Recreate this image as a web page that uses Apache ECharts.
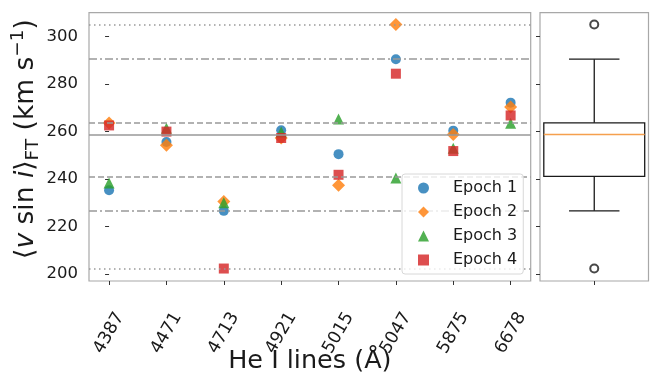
<!DOCTYPE html>
<html>
<head>
<meta charset="utf-8">
<script src="https://cdn.jsdelivr.net/npm/echarts@6/dist/echarts.min.js"></script>
<style>html,body{margin:0;padding:0;background:#fff;}#c{width:650px;height:374px;}</style>
</head>
<body>
<div id="c"></div>
<script>
const categories = ['4387', '4471', '4713', '4921', '5015', '5047', '5875', '6678'];
const epoch1 = [235.3, 255.6, 226.6, 260.6, 250.5, 290.5, 260.4, 272.2];
const epoch2 = [263.6, 254.3, 230.6, 257.3, 237.4, 305.1, 258.8, 270.4];
const epoch3 = [238.3, 261.4, 230.0, 259.8, 265.3, 240.4, 253.0, 263.5];
const epoch4 = [262.6, 260.0, 202.3, 257.3, 241.8, 284.4, 251.8, 266.8];
const yTicks = [200, 220, 240, 260, 280, 300];
// box statistics: lower whisker, Q1, median, Q3, upper whisker
const boxStats = [226.6, 241.1, 258.8, 263.7, 290.5];
const outliers = [305.1, 202.3];

const FONT = 'DejaVu Sans';
const yMin = 197.05, yMax = 310.1;
const idx = categories.map((c, i) => i);

function pts(arr) { return arr.map((v, i) => [i, v]); }

const refColor = '#999999';
const refLines = [
  { yAxis: outliers[0], lineStyle: { type: [1.5, 3.5] } },
  { yAxis: outliers[1], lineStyle: { type: [1.5, 3.5] } },
  { yAxis: boxStats[0], lineStyle: { type: [8, 3, 2, 3] } },
  { yAxis: boxStats[4], lineStyle: { type: [8, 3, 2, 3] } },
  { yAxis: boxStats[1], lineStyle: { type: [6, 3] } },
  { yAxis: boxStats[3], lineStyle: { type: [6, 3] } },
  { yAxis: boxStats[2], lineStyle: { type: 'solid' } }
];

const scatterBase = (name, data, symbol, color, size) => ({
  name, type: 'scatter', xAxisIndex: 0, yAxisIndex: 0,
  data: pts(data), symbol, symbolSize: size,
  itemStyle: { color, opacity: 0.82 },
  emphasis: { disabled: true }, z: 3
});

const chart = echarts.init(document.getElementById('c'), null, { renderer: 'canvas' });
chart.setOption({
  animation: false,
  backgroundColor: '#ffffff',
  textStyle: { fontFamily: FONT },
  grid: [
    { left: 89, top: 12.7, width: 441.7, height: 268.3, show: true, borderColor: '#a8a8a8', borderWidth: 1.2, backgroundColor: 'transparent', containLabel: false, outerBoundsMode: 'none' },
    { left: 540, top: 12.7, width: 108.5, height: 268.3, show: true, borderColor: '#a8a8a8', borderWidth: 1.2, backgroundColor: 'transparent', containLabel: false, outerBoundsMode: 'none' }
  ],
  xAxis: [
    {
      type: 'value', gridIndex: 0, min: -0.35, max: 7.35,
      axisLine: { show: false }, splitLine: { show: false },
      axisTick: { show: true, customValues: idx, length: 4, lineStyle: { color: '#333', width: 1 } },
      axisLabel: {
        customValues: idx, formatter: v => categories[Math.round(v)] || '',
        rotate: 60, align: 'center', verticalAlign: 'middle', margin: 52,
        fontSize: 17.5, color: '#1a1a1a', fontFamily: FONT
      },
      name: 'He I lines (Å)', nameLocation: 'middle', nameGap: 67.5, nameMoveOverlap: false,
      nameTextStyle: { fontSize: 25.5, color: '#1a1a1a', fontFamily: FONT }
    },
    {
      type: 'value', gridIndex: 1, min: 0.5, max: 1.5,
      axisLine: { show: false }, splitLine: { show: false },
      axisTick: { show: true, customValues: [1], length: 4, lineStyle: { color: '#333', width: 1 } },
      axisLabel: { show: false }
    }
  ],
  yAxis: [
    {
      type: 'value', gridIndex: 0, min: yMin, max: yMax,
      axisLine: { show: false }, splitLine: { show: false },
      axisTick: { show: true, customValues: yTicks, length: 4, lineStyle: { color: '#333', width: 1 } },
      axisLabel: { customValues: yTicks, margin: 11, fontSize: 16.5, color: '#1a1a1a', fontFamily: FONT }
    },
    {
      type: 'value', gridIndex: 1, min: yMin, max: yMax,
      axisLine: { show: false }, splitLine: { show: false },
      axisTick: { show: true, customValues: yTicks, length: 4, lineStyle: { color: '#333', width: 1 } },
      axisLabel: { show: false }
    }
  ],
  legend: {
    data: ['Epoch 1', 'Epoch 2', 'Epoch 3', 'Epoch 4'],
    orient: 'vertical', left: 402, top: 174,
    padding: [6, 6, 6, 16], itemGap: 8,
    itemWidth: 11, itemHeight: 11,
    backgroundColor: 'rgba(255,255,255,0.8)', borderColor: '#d8d8d8', borderWidth: 1, borderRadius: 3,
    textStyle: { fontSize: 16, color: '#1a1a1a', fontFamily: FONT, padding: [0, 0, 0, 19] },
    selectedMode: false, z: 10
  },
  graphic: [
    {
      type: 'text', x: 26, y: 139, rotation: Math.PI / 2,
      style: {
        text: '{n|⟨}{it|v}{n| sin }{it|i}{n|⟩}{sub|FT}{n| (km s}{sup|−1}{n|)}',
        align: 'center', verticalAlign: 'middle',
        rich: {
          n: { fontSize: 26.5, fontFamily: FONT, fill: '#1a1a1a', lineHeight: 34 },
          it: { fontSize: 26.5, fontFamily: FONT, fontStyle: 'italic', fill: '#1a1a1a', lineHeight: 34 },
          sub: { fontSize: 18.5, fontFamily: FONT, fill: '#1a1a1a', lineHeight: 18, verticalAlign: 'bottom' },
          sup: { fontSize: 18.5, fontFamily: FONT, fill: '#1a1a1a', lineHeight: 18, verticalAlign: 'top' }
        }
      }
    }
  ],
  series: [
    {
      name: 'refs', type: 'scatter', xAxisIndex: 0, yAxisIndex: 0, data: [], z: 1,
      markLine: {
        silent: true, symbol: ['none', 'none'], label: { show: false },
        lineStyle: { color: refColor, width: 1.5 },
        data: refLines, animation: false
      }
    },
    scatterBase('Epoch 1', epoch1, 'circle', '#1f77b4', 10),
    scatterBase('Epoch 2', epoch2, 'diamond', '#ff7f0e', 13),
    scatterBase('Epoch 3', epoch3, 'triangle', '#2ca02c', 11),
    scatterBase('Epoch 4', epoch4, 'rect', '#d62728', 10),
    {
      name: 'box', type: 'custom', xAxisIndex: 1, yAxisIndex: 1,
      data: [[1].concat(boxStats)],
      encode: { x: 0, y: [1, 2, 3, 4, 5] },
      renderItem: function (params, api) {
        const x = api.value(0);
        const lo = api.value(1), q1 = api.value(2), md = api.value(3), q3 = api.value(4), hi = api.value(5);
        const bh = 0.465, ch = 0.2325;
        const pL = api.coord([x - bh, q3]), pR = api.coord([x + bh, q1]);
        const c = api.coord([x, md]);
        const pLo = api.coord([x, lo]), pHi = api.coord([x, hi]);
        const pQ1 = api.coord([x, q1]), pQ3 = api.coord([x, q3]);
        const cL = api.coord([x - ch, lo])[0], cR = api.coord([x + ch, lo])[0];
        const mL = api.coord([x - bh, md])[0], mR = api.coord([x + bh, md])[0];
        const ls = { stroke: '#1a1a1a', lineWidth: 1.3, fill: null };
        return {
          type: 'group',
          children: [
            { type: 'rect', shape: { x: pL[0], y: pL[1], width: pR[0] - pL[0], height: pR[1] - pL[1] }, style: ls },
            { type: 'line', shape: { x1: pQ1[0], y1: pQ1[1], x2: pLo[0], y2: pLo[1] }, style: ls },
            { type: 'line', shape: { x1: pQ3[0], y1: pQ3[1], x2: pHi[0], y2: pHi[1] }, style: ls },
            { type: 'line', shape: { x1: cL, y1: pLo[1], x2: cR, y2: pLo[1] }, style: ls },
            { type: 'line', shape: { x1: cL, y1: pHi[1], x2: cR, y2: pHi[1] }, style: ls },
            { type: 'line', shape: { x1: mL, y1: c[1], x2: mR, y2: c[1] }, style: { stroke: '#f5a04e', lineWidth: 1.5 } }
          ]
        };
      }
    },
    {
      name: 'outliers', type: 'scatter', xAxisIndex: 1, yAxisIndex: 1,
      data: outliers.map(v => [1, v]), symbol: 'emptyCircle', symbolSize: 8,
      itemStyle: { color: '#1a1a1a', borderColor: '#1a1a1a', borderWidth: 1.3 },
      emphasis: { disabled: true }, z: 4
    }
  ]
});
</script>
</body>
</html>
